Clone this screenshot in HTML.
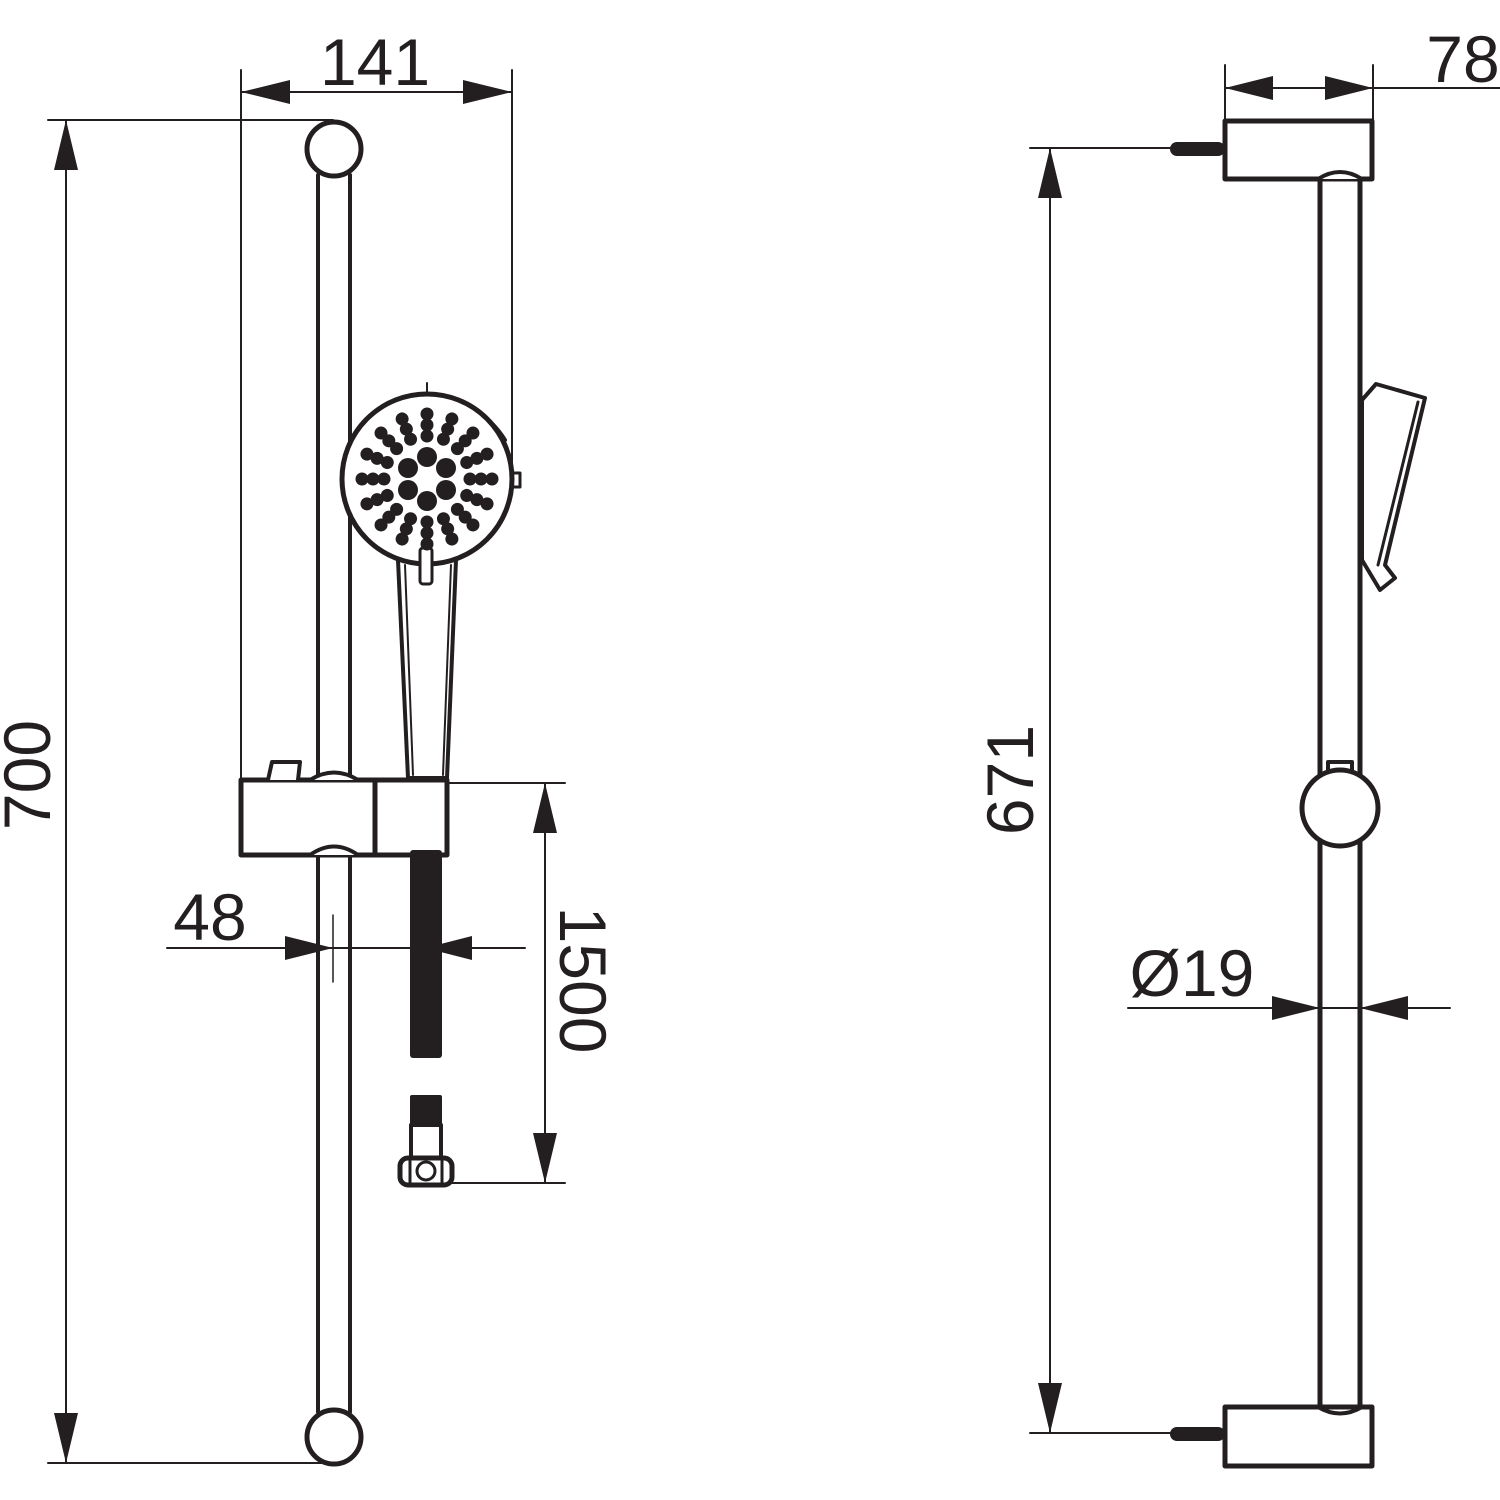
<!DOCTYPE html>
<html><head><meta charset="utf-8"><style>
html,body{margin:0;padding:0;background:#fff}
svg{display:block}
text{font-family:"Liberation Sans",sans-serif;fill:#231f20}
</style></head><body>
<svg width="1500" height="1500" viewBox="0 0 1500 1500" xmlns="http://www.w3.org/2000/svg">
<defs>
<g id="ray"><circle cx="0" cy="-43" r="6.5"/><circle cx="0" cy="-54" r="6.5"/><circle cx="0" cy="-65" r="6.5"/></g>
</defs>
<g stroke="#231f20" fill="none" stroke-linecap="round" stroke-linejoin="round">
<line x1="48" y1="120" x2="333" y2="120" stroke-width="2"/>
<line x1="48" y1="1463" x2="333" y2="1463" stroke-width="2"/>
<line x1="66" y1="120" x2="66" y2="1463" stroke-width="2"/>
<line x1="241" y1="70" x2="241" y2="778" stroke-width="2"/>
<line x1="512" y1="70" x2="512" y2="475" stroke-width="2"/>
<line x1="241" y1="92" x2="512" y2="92" stroke-width="2"/>
<line x1="318" y1="175" x2="318" y2="778" stroke-width="4"/>
<line x1="350" y1="175" x2="350" y2="778" stroke-width="4"/>
<line x1="318" y1="855" x2="318" y2="1412" stroke-width="4"/>
<line x1="350" y1="855" x2="350" y2="1412" stroke-width="4"/>
<circle cx="334" cy="149" r="27" stroke-width="5" fill="#fff"/>
<circle cx="334" cy="1437" r="27" stroke-width="5" fill="#fff"/>
<path d="M352 440 A90 90 0 0 1 505 440" stroke-width="4"/>
<line x1="427" y1="383" x2="427" y2="395" stroke-width="2"/>
<path d="M398 560 L408 778 L447 778 L456 560" stroke-width="4" fill="#fff"/>
<line x1="405" y1="565" x2="413" y2="775" stroke-width="2"/>
<line x1="451" y1="565" x2="443" y2="775" stroke-width="2"/>
<circle cx="427" cy="479" r="85" stroke-width="5" fill="#fff"/>
<rect x="512" y="473" width="8" height="14" stroke-width="3"/>
<rect x="420" y="548" width="12" height="36" rx="3" stroke-width="3" fill="#fff"/>
<path d="M241 780 L375 780 L375 855 L241 855 Z" stroke-width="5" fill="#fff"/>
<path d="M375 780 L447 780 L447 855 L375 855 Z" stroke-width="5" fill="#fff"/>
<path d="M310 780 Q334 765 358 780" stroke-width="4" fill="#fff"/>
<path d="M310 855 Q334 838 358 855" stroke-width="4" fill="#fff"/>
<path d="M268 780 L272 762 L300 762 L298 780" stroke-width="4" fill="#fff"/>
<rect x="410" y="850" width="32" height="208" rx="3" fill="#231f20" stroke="none"/>
<rect x="410" y="1095" width="32" height="30" rx="2" fill="#231f20" stroke="none"/>
<rect x="411" y="1125" width="30" height="33" stroke-width="4"/>
<rect x="400" y="1158" width="52" height="27" rx="8" stroke-width="5" fill="#fff"/>
<circle cx="426" cy="1171" r="9" stroke-width="3"/>
<line x1="410" y1="1161" x2="410" y2="1182" stroke-width="3"/>
<line x1="442" y1="1161" x2="442" y2="1182" stroke-width="3"/>
<line x1="447" y1="783" x2="565" y2="783" stroke-width="2"/>
<line x1="450" y1="1183" x2="565" y2="1183" stroke-width="2"/>
<line x1="545" y1="783" x2="545" y2="1183" stroke-width="2"/>
<line x1="167" y1="948" x2="525" y2="948" stroke-width="2"/>
<line x1="333" y1="915" x2="333" y2="982" stroke-width="1.5"/>

<line x1="1225" y1="65" x2="1225" y2="120" stroke-width="2"/>
<line x1="1373" y1="65" x2="1373" y2="120" stroke-width="2"/>
<line x1="1225" y1="88" x2="1500" y2="88" stroke-width="2"/>
<line x1="1030" y1="148" x2="1170" y2="148" stroke-width="2"/>
<line x1="1030" y1="1433" x2="1170" y2="1433" stroke-width="2"/>
<line x1="1050" y1="148" x2="1050" y2="1433" stroke-width="2"/>
<line x1="1320" y1="178" x2="1320" y2="1412" stroke-width="5"/>
<line x1="1360" y1="178" x2="1360" y2="1412" stroke-width="5"/>
<rect x="1225" y="121" width="147" height="58" stroke-width="5" fill="#fff"/>
<rect x="1225" y="1407" width="147" height="59" stroke-width="5" fill="#fff"/>
<path d="M1318 179 Q1340 165 1362 179" stroke-width="4" fill="#fff"/>
<path d="M1318 1407 Q1340 1420 1362 1407" stroke-width="4"/>
<rect x="1170" y="142" width="55" height="14" rx="7" fill="#231f20" stroke="none"/>
<rect x="1170" y="1427" width="55" height="14" rx="7" fill="#231f20" stroke="none"/>
<rect x="1328" y="762" width="24" height="22" stroke-width="4" fill="#fff"/>
<circle cx="1340" cy="808" r="38" stroke-width="5" fill="#fff"/>
<path d="M1376 384 L1425 398 L1385 565 L1395 578 L1380 590 L1368 570 L1362 560 L1362 400 Z" stroke-width="4" fill="#fff"/>
<line x1="1418" y1="402" x2="1378" y2="565" stroke-width="3"/>
<line x1="1128" y1="1008" x2="1450" y2="1008" stroke-width="2"/>
</g>

<g fill="#231f20">
<polygon points="66,120 54,170 78,170"/><polygon points="66,1463 54,1413 78,1413"/>
<polygon points="241,92 290,80 290,104"/><polygon points="512,92 463,80 463,104"/>
<polygon points="545,783 533,833 557,833"/><polygon points="545,1183 533,1133 557,1133"/>
<polygon points="333,948 285,936 285,960"/><polygon points="425,948 472,936 472,960"/>
<polygon points="1225,88 1273,76 1273,100"/><polygon points="1373,88 1325,76 1325,100"/>
<polygon points="1050,148 1038,198 1062,198"/><polygon points="1050,1433 1038,1383 1062,1383"/>
<polygon points="1320,1008 1272,996 1272,1020"/><polygon points="1360,1008 1408,996 1408,1020"/>
<g transform="translate(427,479)">
<circle cx="0" cy="-22" r="10"/><circle cx="0" cy="22" r="10"/>
<circle cx="19" cy="-11" r="10"/><circle cx="19" cy="11" r="10"/>
<circle cx="-19" cy="-11" r="10"/><circle cx="-19" cy="11" r="10"/>
<use href="#ray" transform="rotate(0)"/><use href="#ray" transform="rotate(22.5)"/>
<use href="#ray" transform="rotate(45)"/><use href="#ray" transform="rotate(67.5)"/>
<use href="#ray" transform="rotate(90)"/><use href="#ray" transform="rotate(112.5)"/>
<use href="#ray" transform="rotate(135)"/><use href="#ray" transform="rotate(157.5)"/>
<use href="#ray" transform="rotate(180)"/><use href="#ray" transform="rotate(202.5)"/>
<use href="#ray" transform="rotate(225)"/><use href="#ray" transform="rotate(247.5)"/>
<use href="#ray" transform="rotate(270)"/><use href="#ray" transform="rotate(292.5)"/>
<use href="#ray" transform="rotate(315)"/><use href="#ray" transform="rotate(337.5)"/>
</g>
</g>

<text x="375" y="85" font-size="66" text-anchor="middle">141</text>
<text x="210" y="940" font-size="66" text-anchor="middle">48</text>
<text x="1463" y="82" font-size="66" text-anchor="middle">78</text>
<text x="1192" y="996" font-size="66" text-anchor="middle">Ø19</text>
<text transform="translate(50,775) rotate(-90)" font-size="66" text-anchor="middle">700</text>
<text transform="translate(1033,780) rotate(-90)" font-size="66" text-anchor="middle">671</text>
<text transform="translate(560,980) rotate(90)" font-size="66" text-anchor="middle">1500</text>
</svg>
</body></html>
